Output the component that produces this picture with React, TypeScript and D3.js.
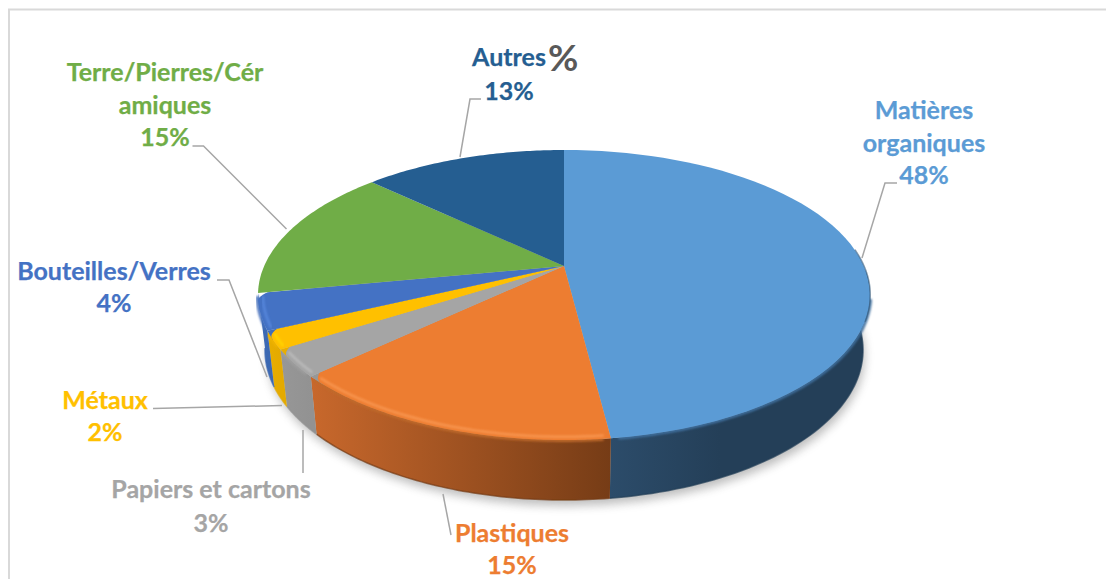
import React from "react";
import * as d3 from "d3";

const categories = ["Matières organiques", "Plastiques", "Papiers et cartons", "Métaux", "Bouteilles/Verres", "Terre/Pierres/Céramiques", "Autres"];
const values = [48, 15, 3, 2, 4, 15, 13];
const colors = ["#5B9BD5", "#ED7D31", "#A5A5A5", "#FFC000", "#4472C4", "#70AD47", "#255E91"];
const wallLeft = ["#2C4C6A", "#C8682C", "#979797", "#E8AE00", "#3F6DBA", "#5F9438", "#1E4C76"];
const wallRight = ["#243F58", "#763C16", "#929292", "#E4AA00", "#3B68B2", "#5F9438", "#1E4C76"];
const edgeColors = ["#40709E", "#C06A2C", "#9E9E9E", "#F0B400", "#4470BC", "#70AD47", "#255E91"];
const rimColors = ["", "#FA9A55", "#BEBEBE", "#FFD800", "#5A8BE0", "", ""];
const labelLines = [
  ["Matières", "organiques", "48%"],
  ["Plastiques", "15%"],
  ["Papiers et cartons", "3%"],
  ["Métaux", "2%"],
  ["Bouteilles/Verres", "4%"],
  ["Terre/Pierres/Cér", "amiques", "15%"],
  ["Autres", "13%"],
];
const labelX = [924, 512, 211, 105, 114, 165, 509];
const labelY = [
  [119, 151.5, 184],
  [542, 574],
  [498, 532],
  [409, 441],
  [280, 312],
  [81, 114, 146],
  [66, 100],
];
const leaders: [number, number][][] = [
  [[897, 183], [885, 183], [862, 258]],
  [[451, 535], [443, 494]],
  [[303, 473], [303, 430]],
  [[153, 408.5], [282, 405.5]],
  [[217, 280], [229, 280], [267, 377]],
  [[192.5, 146], [203.5, 146], [286.5, 229]],
  [[481, 99], [470, 99], [460, 157]],
];

const W = 1106, H = 579;
const K = 0.2; // perspective factor
const top = { cx: 564, cy: 266, a: 299.8, b: 139.2 };
const bot = { cx: 564, cy: 320, a: 293, b: 144 };
const proj = (p: typeof top, th: number, r = 1): [number, number] => {
  const u = r * Math.sin(th), v = -r * Math.cos(th), w = 1 - K * v;
  return [p.cx + (p.a * u) / w, p.cy + (p.b * v) / w];
};
const sample = (p: typeof top, a0: number, a1: number, r = 1) =>
  d3.range(0, 61).map((i) => proj(p, a0 + ((a1 - a0) * i) / 60, r));
// rim with a softly rounded corner at the clockwise end of a slice
const rounded = (a0: number, a1: number) => {
  const delta = 0.05, depth = 0.03;
  return d3.range(0, 121).map((i) => {
    const th = a0 + ((a1 - a0) * i) / 120;
    const d = a1 - th;
    const t = d < delta ? 1 - d / delta : 0;
    return proj(top, th, 1 - depth * t * t);
  });
};

const line = d3.line<[number, number]>().x((d) => d[0]).y((d) => d[1]);
const arcs = d3.pie<number>().sort(null).value((d) => d)(values);
const full = sample(bot, 0, 2 * Math.PI);
const font = "Lato, Carlito, sans-serif";
const hasWall = (a: { startAngle: number; endAngle: number }) => a.endAngle > 1.6 && a.startAngle < 4.5;
const apex: [number, number] = [top.cx, top.cy];

export default function App() {
  const wallStart = (a: number) => Math.max(a, 1.6);
  const edgeStart = (a: number) => Math.max(a, 1.8);
  return (
    <svg width={W} height={H} style={{ position: "fixed", left: 0, top: 0, background: "#fff" }}>
      <defs>
        <filter id="shadow" x="-10%" y="-10%" width="120%" height="120%"><feGaussianBlur stdDeviation="5" /></filter>
        <filter id="soft" x="-10%" y="-10%" width="120%" height="120%"><feGaussianBlur stdDeviation="1.3" /></filter>
        <filter id="edge" x="-5%" y="-5%" width="110%" height="110%"><feGaussianBlur stdDeviation="0.6" /></filter>
        {arcs.map((a, i) => {
          const xs = sample(top, a.startAngle, a.endAngle).map((d) => d[0]);
          return (
            <linearGradient key={i} id={`wall${i}`} gradientUnits="userSpaceOnUse"
              x1={i === 0 ? 610 : (d3.min(xs) as number)} x2={i === 0 ? 720 : (d3.max(xs) as number)} y1={0} y2={0}>
              <stop offset="0" stopColor={wallLeft[i]} />
              <stop offset="1" stopColor={wallRight[i]} />
            </linearGradient>
          );
        })}
      </defs>
      <path d="M9 579V9.5H1106" fill="none" stroke="#D9D9D9" strokeWidth={2} />

      <g transform="translate(2,6)" opacity={0.38}>
        <path d={line(full)! + "Z"} fill="#555" filter="url(#shadow)" />
      </g>

      {arcs.map((a, i) => {
        if (!hasWall(a)) return null;
        const s = wallStart(a.startAngle);
        const pts = [...sample(top, s, a.endAngle), ...sample(bot, s, a.endAngle).reverse()];
        return (
          <g key={i}>
            <path d={line(pts)! + "Z"} fill={`url(#wall${i})`} />
            <path d={line(sample(bot, s, a.endAngle))!} fill="none" stroke={wallRight[i]} strokeWidth={1.5}
              opacity={0.7} filter="url(#edge)" />
          </g>
        );
      })}

      {arcs.map((a, i) => {
        if (!hasWall(a)) return null;
        return (
          <path key={i} d={line(sample(top, edgeStart(a.startAngle) + (i ? 0.02 : 0), a.endAngle - 0.02, 1.002))!}
            fill="none" stroke={edgeColors[i]} strokeWidth={3} filter="url(#soft)" />
        );
      })}

      {/* what shows through the rounded corner of a slice is its neighbour's wall */}
      {arcs.map((a, i) =>
        i >= 1 && i <= 3 ? (
          <path key={i} d={line([apex, ...sample(top, a.endAngle - 0.06, a.endAngle)])! + "Z"} fill={wallLeft[i + 1]} />
        ) : null
      )}

      {arcs.map((a, i) => {
        const rim = i >= 1 && i <= 4 ? rounded(a.startAngle, a.endAngle) : sample(top, a.startAngle, a.endAngle);
        return <path key={i} d={line([apex, ...rim])! + "Z"} fill={colors[i]} />;
      })}

      {arcs.map((a, i) => {
        if (!rimColors[i]) return null;
        return (
          <path key={i} d={line(sample(top, a.startAngle + 0.02, a.endAngle - 0.03, 0.985))!} fill="none"
            stroke={rimColors[i]} strokeWidth={2.5} strokeLinecap="round" opacity={0.85} filter="url(#soft)" />
        );
      })}
      <path d={line(sample(top, 1.45, 1.95, 1.001))!} fill="none" stroke="#2F5578" strokeWidth={1.4} opacity={0.6} filter="url(#edge)" />

      {leaders.map((pts, i) => (
        <path key={i} d={line(pts)!} fill="none" stroke="#A6A6A6" strokeWidth={1.5} />
      ))}

      {labelLines.map((lines, i) => (
        <text key={i} fontFamily={font} fontWeight={700} fontSize={25} fill={colors[i]} textAnchor="middle"
          stroke={colors[i]} strokeWidth={0.25}>
          {lines.map((t, j) => (
            <tspan key={j} x={labelX[i]} y={labelY[i][j]}>{t}</tspan>
          ))}
        </text>
      ))}
      <text x={548} y={71} fontFamily={font} fontSize={37} fontWeight={700} fill="#595959">%</text>
    </svg>
  );
}
